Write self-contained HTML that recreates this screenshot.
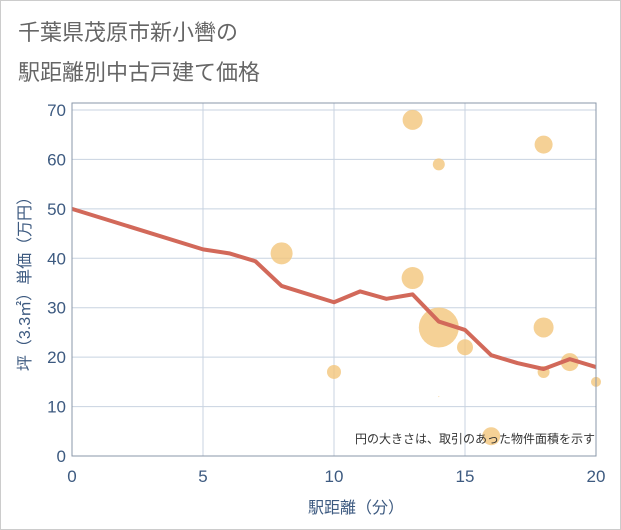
<!DOCTYPE html>
<html><head><meta charset="utf-8"><style>
body{margin:0;background:#fff;font-family:"Liberation Sans","Noto Sans CJK JP",sans-serif}
#wrap{position:relative;width:619px;height:528px;border:1px solid #ccc;background:#fff}
</style></head><body>
<div id="wrap">
<svg id="chart" width="621" height="530" style="position:absolute;left:-1px;top:-1px">
<text x="18" y="40" font-size="22" fill="#666" font-family="Liberation Sans,Noto Sans CJK JP,sans-serif">千葉県茂原市新小轡の</text>
<text x="18" y="80" font-size="22" fill="#666" font-family="Liberation Sans,Noto Sans CJK JP,sans-serif">駅距離別中古戸建て価格</text>
<g id="grid"></g><g id="bubbles"></g><g id="line"></g><g id="axes"></g>
<text x="595" y="443" font-size="12" fill="#333" text-anchor="end" font-family="Liberation Sans,Noto Sans CJK JP,sans-serif">円の大きさは、取引のあった物件面積を示す</text>
<text x="356" y="513" font-size="16" fill="#3d5a80" text-anchor="middle" font-family="Liberation Sans,Noto Sans CJK JP,sans-serif">駅距離（分）</text>
<text transform="translate(30,280) rotate(-90)" font-size="16" fill="#3d5a80" text-anchor="middle" font-family="Liberation Sans,Noto Sans CJK JP,sans-serif">坪（3.3㎡）単価（万円）</text>
</svg>
</div>
<script>
const xTicks=[0,5,10,15,20];
const yTicks=[0,10,20,30,40,50,60,70];
const lineX=[0,5,6,7,8,10,11,12,13,14,15,16,17,18,19,20];
const lineY=[50,41.8,41,39.4,34.4,31.1,33.3,31.8,32.7,27.2,25.5,20.4,18.8,17.6,19.6,18];
const bubX=[8,13,14,18,13,14,15,18,19,18,10,16,20,14];
const bubY=[41,68,59,63,36,26,22,26,19,17,17,4,15,12];
const bubR=[11,10,6,9,11,20,8,10,9,6,7,9,5,0.5];
const X0=72,X1=596,Y0=456,YT=103;
const sx=v=>X0+(X1-X0)*v/20;
const sy=v=>Y0-(Y0-110)*v/70;
const NS="http://www.w3.org/2000/svg";
function mk(p,t,a){const e=document.createElementNS(NS,t);for(const k in a)e.setAttribute(k,a[k]);p.appendChild(e);return e;}
const grid=document.getElementById('grid'),axes=document.getElementById('axes');
xTicks.forEach(v=>{
 const l=mk(grid,'line',{x1:sx(v),x2:sx(v),y1:YT,y2:Y0,stroke:'#c8d3e0'});
 
 
 const t=mk(axes,'text',{x:sx(v),y:482,'font-size':17,fill:'#3d5a80','text-anchor':'middle'});t.textContent=v;
 
 
});
yTicks.forEach(v=>{
 const l=mk(grid,'line',{x1:X0,x2:X1,y1:sy(v),y2:sy(v),stroke:'#c8d3e0'});
 
 
 const t=mk(axes,'text',{x:66,y:sy(v)+6,'font-size':17,fill:'#3d5a80','text-anchor':'end'});t.textContent=v;
 
 
});
const fr=mk(axes,'rect',{x:X0,y:YT,width:X1-X0,height:Y0-YT,fill:'none',stroke:'#8a97a8'});


const bg=document.getElementById('bubbles');
bubX.forEach((v,i)=>{
 const c=mk(bg,'circle',{cx:sx(v),cy:sy(bubY[i]),r:bubR[i],fill:'#f2c57c','fill-opacity':0.8});
 
 
});
const pl=mk(document.getElementById('line'),'polyline',{points:lineX.map((v,i)=>sx(v)+','+sy(lineY[i])).join(' '),fill:'none',stroke:'#d2695a','stroke-width':4,'stroke-linejoin':'round'});


</script>
</body></html>
